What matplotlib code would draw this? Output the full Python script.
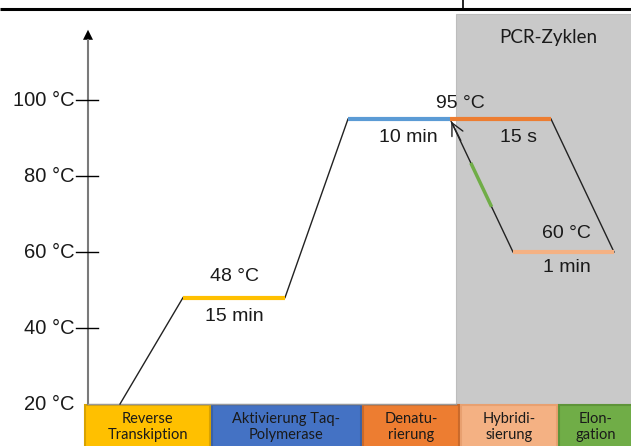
import matplotlib.pyplot as plt
from matplotlib.patches import Rectangle, FancyArrowPatch

# Temperaturprofil der RT-PCR (Zeitachse in willkürlichen Einheiten)
achse_ticks = [40, 60, 80, 100]
achse_labels = ['20 °C', '40 °C', '60 °C', '80 °C', '100 °C']
achse_werte = [20, 40, 60, 80, 100]

rampe_x = [120, 183, 285, 348]
rampe_t = [20, 48, 48, 95]

plateaus = [
    # (x_start, x_ende, temperatur, farbe)
    (183, 285, 48, '#FFC000'),
    (348, 450, 95, '#5B9BD5'),
    (450, 551, 95, '#ED7D31'),
    (513, 614, 60, '#F4B183'),
]

zyklus_x = [551, 614]
zyklus_t = [95, 60]
rueck_x = [513, 450]
rueck_t = [60, 95]
elong_anteil = [0.33, 0.66]   # grüner Abschnitt auf der Rückführung

phasen = ['Reverse\nTranskiption', 'Aktivierung Taq-\nPolymerase', 'Denatu-\nrierung',
          'Hybridi-\nsierung', 'Elon-\ngation']
phasen_farben = ['#FFC000', '#4472C4', '#ED7D31', '#F4B183', '#70AD47']
phasen_rand = ['#D9A300', '#3A62A8', '#C9692A', '#E8A070', '#5E9439']
phasen_x = [(85, 210), (212, 361), (363, 459), (461, 557), (559, 632)]


def ty(t):
    # Temperatur -> Zeichenkoordinate
    return 404 - (t - 20) * 3.8


fig = plt.figure(figsize=(6.31, 4.46), dpi=100)
ax = fig.add_axes([0, 0, 1, 1])
ax.set_xlim(0, 631)
ax.set_ylim(446, 0)
ax.axis('off')

# Rahmenlinien oben
ax.plot([0, 631], [9, 9], color='black', lw=2.2, solid_capstyle='butt')
ax.plot([463, 463], [0, 9], color='black', lw=1.2)

# PCR-Zyklen Bereich
ax.add_patch(Rectangle((456, 14), 180, 390, facecolor='#C9C9C9', edgecolor='#BDBDBD', lw=0.8, zorder=0))
ax.text(548, 38, 'PCR-Zyklen', ha='center', va='center', fontsize=13.5, family='Lato', color='#1a1a1a')

# y-Achse mit Pfeil
ax.plot([88, 88], [404, 40], color='#7a7a7a', lw=1.5)
ax.add_patch(FancyArrowPatch((88, 45), (88, 27), arrowstyle='-|>', mutation_scale=18,
                             color='black', lw=0))
for t in achse_ticks:
    ax.plot([76, 98], [ty(t), ty(t)], color='black', lw=1)
for t, lab in zip(achse_werte, achse_labels):
    ax.text(75, ty(t), lab, ha='right', va='center', fontsize=14.5, family='Liberation Sans',
            color='#1a1a1a')
ax.plot([88, 456], [404, 404], color='#9a9a9a', lw=1)

# Rampen
ax.plot(rampe_x[:2], [ty(t) for t in rampe_t[:2]], color='#222222', lw=1)
ax.plot(rampe_x[2:], [ty(t) for t in rampe_t[2:]], color='#222222', lw=1)
ax.plot(zyklus_x, [ty(t) for t in zyklus_t], color='#222222', lw=1)
ax.plot(rueck_x, [ty(t) for t in rueck_t], color='#222222', lw=1)

# grüner Elongationsabschnitt
x0, x1 = rueck_x
y0, y1 = ty(rueck_t[0]), ty(rueck_t[1])
gx = [x1 + (x0 - x1) * f for f in elong_anteil]
gy = [y1 + (y0 - y1) * f for f in elong_anteil]
ax.plot(gx, gy, color='#70AD47', lw=2.5, solid_capstyle='butt')

# Pfeilspitze zurück zur Denaturierung
ax.annotate('', xy=(450, ty(95)), xytext=(462, ty(95) + 24),
            arrowprops=dict(arrowstyle='->', color='#222222', lw=1, mutation_scale=22))

# Plateaus
for xa, xb, t, c in plateaus:
    ax.plot([xa, xb], [ty(t), ty(t)], color=c, lw=3, solid_capstyle='butt')

txt = dict(fontsize=14, family='Liberation Sans', color='#1a1a1a', ha='center', va='center')
ax.text(234, ty(48) - 21, '48 °C', **txt)
ax.text(234, ty(48) + 19, '15 min', **txt)
ax.text(460, ty(95) - 15, '95 °C', **txt)
ax.text(408, ty(95) + 19, '10 min', **txt)
ax.text(519, ty(95) + 18, '15 s', **txt)
ax.text(566, ty(60) - 18, '60 °C', **txt)
ax.text(567, ty(60) + 16, '1 min', **txt)

# Phasenbalken unten
for (xa, xb), lab, c, r in zip(phasen_x, phasen, phasen_farben, phasen_rand):
    ax.add_patch(Rectangle((xa, 405), xb - xa, 45, facecolor=c, edgecolor=r, lw=1.5))
    ax.text((xa + xb) / 2, 427, lab, ha='center', va='center', fontsize=10.5,
            family='Lato', color='#1a1a1a', linespacing=1.25)

fig.savefig('out.png', dpi=100)
